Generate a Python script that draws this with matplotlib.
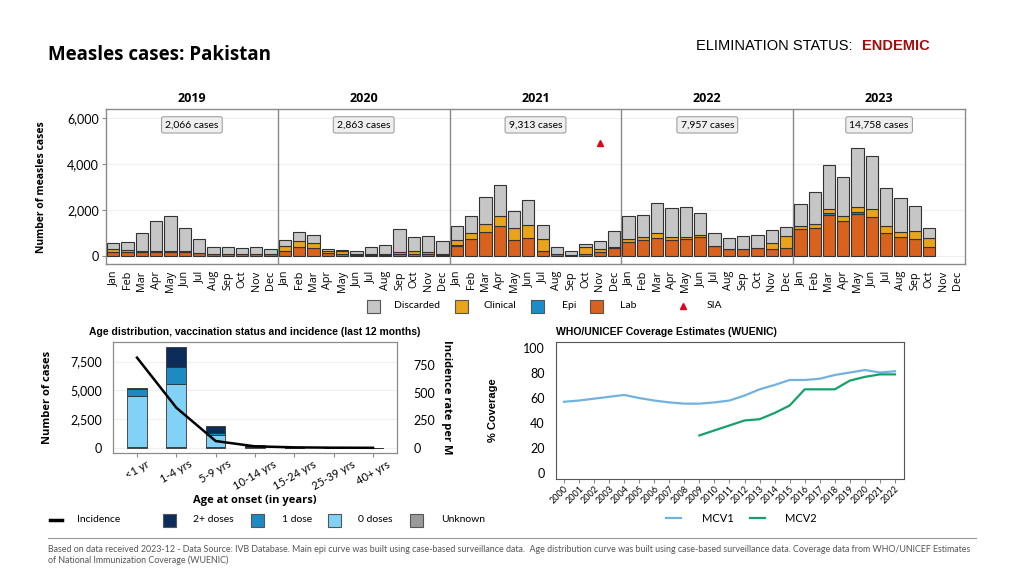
import matplotlib
matplotlib.use("Agg")
import matplotlib.pyplot as plt
import matplotlib.patches as mpatches
from matplotlib.lines import Line2D
import numpy as np

plt.rcParams['font.family'] = ['Lato', 'DejaVu Sans']

# ---------------- data ----------------
years = ["2019", "2020", "2021", "2022", "2023"]
months = ["Jan", "Feb", "Mar", "Apr", "May", "Jun", "Jul", "Aug", "Sep", "Oct", "Nov", "Dec"]
year_totals = ["2,066 cases", "2,863 cases", "9,313 cases", "7,957 cases", "14,758 cases"]

lab = [170, 160, 160, 175, 160, 160, 115, 90, 80, 80, 90, 70,
       230, 390, 335, 115, 70, 45, 45, 45, 90, 90, 90, 45,
       420, 740, 1045, 1305, 680, 785, 230, 70, 45, 70, 160, 360,
       595, 680, 785, 680, 725, 810, 435, 305, 290, 350, 290, 360,
       1160, 1235, 1800, 1520, 1840, 1680, 1000, 840, 725, 390, 0, 0]
epi = [0, 0, 0, 0, 0, 0, 0, 0, 0, 0, 0, 0,
       0, 0, 0, 0, 0, 0, 0, 0, 0, 0, 0, 0,
       70, 0, 0, 0, 0, 0, 0, 0, 0, 0, 0, 0,
       0, 0, 0, 0, 0, 0, 0, 0, 0, 0, 0, 0,
       0, 0, 70, 0, 90, 0, 0, 0, 0, 0, 0, 0]
clinical = [130, 120, 70, 60, 70, 70, 30, 10, 0, 0, 0, 20,
            205, 250, 230, 115, 130, 20, 20, 20, 70, 130, 70, 20,
            190, 260, 345, 435, 555, 550, 495, 10, 15, 335, 160, 30,
            145, 130, 200, 145, 115, 105, 10, 10, 10, 10, 260, 495,
            160, 145, 160, 205, 185, 350, 290, 205, 350, 395, 0, 0]
discarded = [250, 315, 785, 1285, 1495, 970, 580, 275, 295, 255, 285, 200,
             245, 405, 365, 90, 75, 165, 340, 400, 1000, 605, 695, 585,
             610, 740, 1160, 1335, 710, 1100, 610, 295, 170, 130, 320, 700,
             985, 960, 1335, 1265, 1275, 940, 540, 455, 555, 540, 565, 405,
             930, 1390, 1915, 1725, 2570, 2335, 1680, 1495, 1115, 420, 0, 0]
sia_month_index = [34]   # Nov 2021
sia_value = [4900]

age_groups = ["<1 yr", "1-4 yrs", "5-9 yrs", "10-14 yrs", "15-24 yrs", "25-39 yrs", "40+ yrs"]
dose0 = [4475, 5525, 1045, 50, 10, 5, 3]
dose1 = [615, 1450, 175, 20, 5, 2, 1]
dose2 = [40, 1775, 610, 130, 5, 3, 1]
unknown = [30, 30, 20, 30, 5, 2, 1]
incidence = [816, 364, 63, 15, 6, 3, 2]

cov_years = list(range(2000, 2023))
mcv1 = [57, 58, 59.5, 61, 62.5, 60, 58, 56.5, 55.5, 55.5, 56.5, 58, 62, 67, 70.5, 74.5, 74.5, 75.5, 78.5, 80.5, 82.5, 80.5, 81.5]
mcv2_years = list(range(2009, 2023))
mcv2 = [30, 34, 38, 42, 43, 48, 54, 67, 67, 67, 74, 77, 79, 79]

# ---------------- style ----------------
C_DISC = "#c6c6c6"
C_CLIN = "#e9a41c"
C_EPI = "#1a8cc8"
C_LAB = "#d9621f"
C_D2 = "#0c2c5a"
C_D1 = "#1d8ac4"
C_D0 = "#82d2f8"
C_UNK = "#9a9a9a"
C_MCV1 = "#72b2e0"
C_MCV2 = "#16a06c"
C_SIA = "#e3001b"
EDGE = "#333333"
SPINE = "#8a8a8a"

W, H = 1024, 576
fig = plt.figure(figsize=(W / 100, H / 100), dpi=100)


def px_axes(x0, y0, x1, y1):
    return fig.add_axes([x0 / W, 1 - y1 / H, (x1 - x0) / W, (y1 - y0) / H])


def leg_patch(xpx, ypx, color, label, textx, size=13, fs=7.5):
    fig.add_artist(mpatches.Rectangle((xpx / W, 1 - (ypx + size / 2) / H), size / W, size / H,
                                      transform=fig.transFigure, facecolor=color,
                                      edgecolor="#555555", linewidth=0.8))
    fig.text(textx / W, 1 - ypx / H, label, fontsize=fs, va="center", ha="left")


def leg_line(x0, x1, ypx, color, label, textx, lw=2.0, fs=7.5):
    fig.add_artist(Line2D([x0 / W, x1 / W], [1 - ypx / H, 1 - ypx / H], color=color, linewidth=lw,
                          transform=fig.transFigure))
    fig.text(textx / W, 1 - ypx / H, label, fontsize=fs, va="center", ha="left")


# ---------------- titles ----------------
fig.text(48 / W, 1 - 55 / H, "Measles cases: Pakistan", fontsize=13.5, fontweight="bold",
         family=["Open Sans", "DejaVu Sans"], va="center", ha="left")
fig.text(852 / W, 1 - 46 / H, "ELIMINATION STATUS:", fontsize=10.5, va="center", ha="right",
         family=["Liberation Sans Narrow", "Liberation Sans", "DejaVu Sans"])
fig.text(862 / W, 1 - 46 / H, "ENDEMIC", fontsize=10.5, va="center", ha="left", fontweight="bold",
         color="#a30d0d", family=["Liberation Sans", "DejaVu Sans"])

# ---------------- main epi curve ----------------
ax = px_axes(106, 109, 965, 264)
n = len(lab)
x = np.arange(n)
lab_a = np.array(lab)
epi_a = np.array(epi)
clin_a = np.array(clinical)
disc_a = np.array(discarded)
bw = 0.86


def lw_for(vals):
    return [0.8 if v > 0 else 0 for v in vals]


ax.bar(x, lab_a, bw, color=C_LAB, edgecolor=EDGE, linewidth=lw_for(lab_a), zorder=3)
ax.bar(x, epi_a, bw, bottom=lab_a, color=C_EPI, edgecolor=EDGE, linewidth=lw_for(epi_a), zorder=3)
ax.bar(x, clin_a, bw, bottom=lab_a + epi_a, color=C_CLIN, edgecolor=EDGE, linewidth=lw_for(clin_a),
       zorder=3)
ax.bar(x, disc_a, bw, bottom=lab_a + epi_a + clin_a, color=C_DISC, edgecolor=EDGE,
       linewidth=lw_for(disc_a), zorder=3)
ax.plot(sia_month_index, sia_value, marker="^", color=C_SIA, markersize=4.5, linestyle="none", zorder=4)
ax.set_xlim(-0.5, n - 0.5)
ax.set_ylim(-350, 6390)
ax.set_yticks([0, 2000, 4000, 6000])
ax.set_yticklabels(["0", "2,000", "4,000", "6,000"], fontsize=9)
ax.set_xticks(x)
ax.set_xticklabels(months * len(years), rotation=90, fontsize=7.8, family=["Open Sans", "DejaVu Sans"])
ax.tick_params(axis="x", length=0, pad=5)
ax.tick_params(axis="y", length=3, color=SPINE, pad=2)
ax.grid(axis="y", color="#efefef", linewidth=0.8, zorder=0)
for s in ax.spines.values():
    s.set_color(SPINE)
    s.set_linewidth(1)
for k in range(1, len(years)):
    ax.axvline(12 * k - 0.5, color=SPINE, linewidth=1, zorder=2)
for k, (yr, tot) in enumerate(zip(years, year_totals)):
    xc = 12 * k + 5.5
    ax.text(xc, 1.065, yr, transform=ax.get_xaxis_transform(), ha="center", va="center",
            fontsize=9, fontweight="bold", family=["Open Sans", "DejaVu Sans"])
    ax.text(xc, 5700, tot, ha="center", va="center", fontsize=7.5, zorder=5,
            bbox=dict(boxstyle="round,pad=0.35,rounding_size=0.2", fc="#efefef", ec="#a0a0a0", lw=0.8))
fig.text(42 / W, 1 - 187 / H, "Number of measles cases", rotation=90, fontsize=7.5, fontweight="bold",
         ha="center", va="center", family=["Open Sans", "DejaVu Sans"])

# top legend
leg_patch(367, 306, C_DISC, "Discarded", 394)
leg_patch(455, 306, C_CLIN, "Clinical", 483)
leg_patch(531, 306, C_EPI, "Epi", 562)
leg_patch(590, 306, C_LAB, "Lab", 620)
fig.add_artist(Line2D([683 / W], [1 - 306 / H], marker="^", color=C_SIA, markersize=4.5,
                      linestyle="none", transform=fig.transFigure))
fig.text(707 / W, 1 - 306 / H, "SIA", fontsize=7.5, va="center", ha="left")

# ---------------- age distribution ----------------
ax2 = px_axes(113, 342, 397, 453)
xa = np.arange(len(age_groups))
d0 = np.array(dose0)
d1 = np.array(dose1)
d2 = np.array(dose2)
un = np.array(unknown)
bw2 = 0.5
ax2.bar(xa, un, bw2, color=C_UNK, edgecolor=EDGE, linewidth=0.6, zorder=3)
ax2.bar(xa, d0, bw2, bottom=un, color=C_D0, edgecolor=EDGE, linewidth=0.6, zorder=3)
ax2.bar(xa, d1, bw2, bottom=un + d0, color=C_D1, edgecolor=EDGE, linewidth=0.6, zorder=3)
ax2.bar(xa, d2, bw2, bottom=un + d0 + d1, color=C_D2, edgecolor=EDGE, linewidth=0.6, zorder=3)
ax2.set_xlim(-0.61, len(age_groups) - 1 + 0.61)
ax2.set_ylim(-460, 9210)
ax2.set_yticks([0, 2500, 5000, 7500])
ax2.set_yticklabels(["0", "2,500", "5,000", "7,500"], fontsize=9)
ax2.set_xticks(xa)
ax2.set_xticklabels(age_groups, rotation=30, fontsize=8, ha="center")
ax2.tick_params(axis="x", length=3, color=SPINE, pad=1)
ax2.tick_params(axis="y", length=0, pad=8)
ax2.grid(axis="y", color="#efefef", linewidth=0.8, zorder=0)
for s in ax2.spines.values():
    s.set_color(SPINE)
ax2.set_xlabel("Age at onset (in years)", fontsize=8, fontweight="bold", labelpad=2,
               family=["Open Sans", "DejaVu Sans"])
ax2.set_ylabel("Number of cases", fontsize=8, fontweight="bold", labelpad=12,
               family=["Open Sans", "DejaVu Sans"])
ax2.set_title("Age distribution, vaccination status and incidence (last 12 months)", fontsize=7.5,
              fontweight="bold", family=["Liberation Sans", "DejaVu Sans"], pad=5)
ax2b = ax2.twinx()
ax2b.plot(xa, incidence, color="black", linewidth=1.8, zorder=5)
ax2b.set_ylim(-45, 957)
ax2b.set_yticks([0, 250, 500, 750])
ax2b.set_yticklabels(["0", "250", "500", "750"], fontsize=9)
ax2b.tick_params(axis="y", length=0, pad=12)
for s in ax2b.spines.values():
    s.set_color(SPINE)
ax2b.set_ylabel("Incidence rate per M", rotation=270, fontsize=8, fontweight="bold", labelpad=12,
                family=["Open Sans", "DejaVu Sans"])

# age legend
leg_line(50, 62, 520, "black", "Incidence", 77, lw=2.5)
leg_patch(163, 520, C_D2, "2+ doses", 193)
leg_patch(251, 520, C_D1, "1 dose", 282)
leg_patch(328, 520, C_D0, "0 doses", 358)
leg_patch(410, 520, C_UNK, "Unknown", 441)

# ---------------- coverage ----------------
ax3 = px_axes(556, 342, 904, 479)
ax3.plot(cov_years, mcv1, color=C_MCV1, linewidth=1.6, label="MCV1")
ax3.plot(mcv2_years, mcv2, color=C_MCV2, linewidth=1.6, label="MCV2")
ax3.set_xlim(1999.47, 2022.6)
ax3.set_ylim(-5, 105)
ax3.set_yticks([0, 20, 40, 60, 80, 100])
ax3.set_yticklabels(["0", "20", "40", "60", "80", "100"], fontsize=9)
ax3.set_xticks(cov_years)
ax3.set_xticklabels([str(y) for y in cov_years], rotation=45, fontsize=6.5, ha="right",
                    rotation_mode="anchor")
ax3.tick_params(axis="x", length=3, color=SPINE, pad=1)
ax3.tick_params(axis="y", length=0, pad=8)
for s in ax3.spines.values():
    s.set_color("#555555")
ax3.set_ylabel("% Coverage", fontsize=8, fontweight="bold", labelpad=18,
               family=["Liberation Sans", "DejaVu Sans"])
ax3.set_title("WHO/UNICEF Coverage Estimates (WUENIC)", fontsize=7.5, fontweight="bold", loc="left",
              family=["Liberation Sans", "DejaVu Sans"], pad=5)

# coverage legend
leg_line(666, 681, 518, C_MCV1, "MCV1", 702, lw=1.6, fs=8)
leg_line(750, 765, 518, C_MCV2, "MCV2", 785, lw=1.6, fs=8)

# ---------------- footer ----------------
fig.add_artist(Line2D([48 / W, 976 / W], [1 - 538 / H, 1 - 538 / H], color="#9a9a9a", linewidth=0.8))
fig.text(48 / W, 1 - 549 / H,
         "Based on data received 2023-12 - Data Source: IVB Database. Main epi curve was built using case-based "
         "surveillance data.  Age distribution curve was built using case-based surveillance data. Coverage data "
         "from WHO/UNICEF Estimates",
         fontsize=6.4, color="#555555", va="center", ha="left")
fig.text(48 / W, 1 - 560 / H, "of National Immunization Coverage (WUENIC)",
         fontsize=6.4, color="#555555", va="center", ha="left")

fig.savefig("out.png", dpi=100)
